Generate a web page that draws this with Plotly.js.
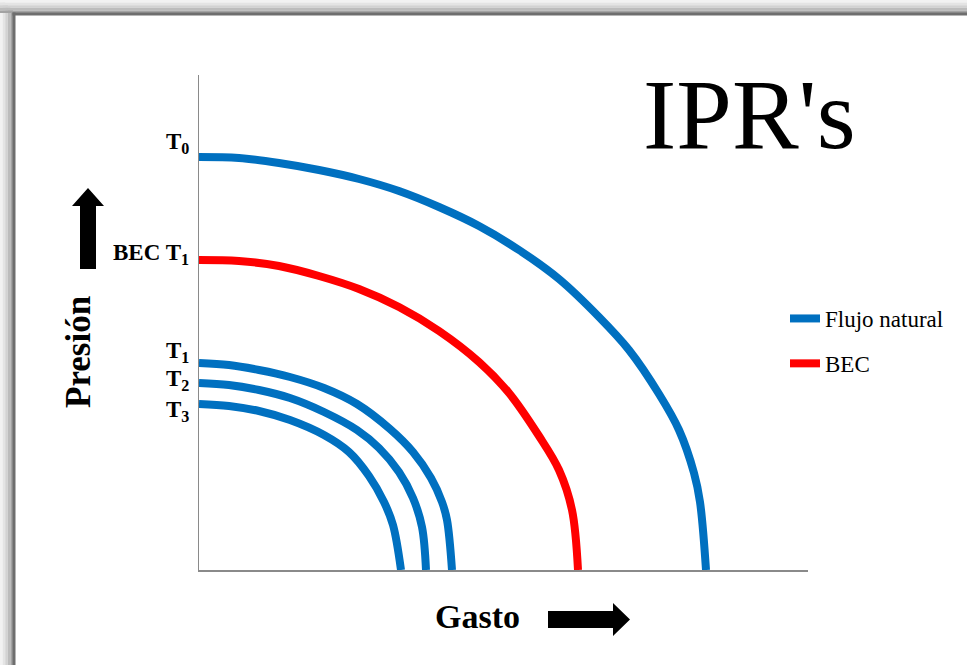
<!DOCTYPE html>
<html>
<head>
<meta charset="utf-8">
<script src="https://cdn.plot.ly/plotly-3.0.1.min.js"></script>
<style>html,body{margin:0;padding:0;background:#fff;}#chart{width:967px;height:665px;}</style>
</head>
<body>
<div id="chart"></div>
<script>
// ---- data (arbitrary units: gasto vs presión) ----
const t0Gasto   = [0, 40, 80, 120, 160, 200, 240, 280, 320, 360, 400, 430, 460, 480, 495, 501, 507];
const t0Presion = [413, 412, 407, 400, 391, 379, 363, 344, 320, 291, 253, 220, 176, 140, 97, 68, 0];

const becGasto   = [0, 40, 80, 120, 160, 200, 240, 280, 310, 340, 360, 373, 379];
const becPresion = [310, 309, 304, 294, 281, 263, 239, 208, 177, 134, 100, 60, 0];

const t1Gasto   = [0, 30, 60, 91, 125, 158, 191, 214, 232, 243, 248, 253];
const t1Presion = [207, 205, 200, 193, 182, 166, 141, 118, 92, 68, 50, 0];

const t2Gasto   = [0, 30, 60, 91, 125, 158, 180, 200, 214, 223, 227];
const t2Presion = [187, 185, 180, 172, 158, 140, 122, 98, 72, 43, 0];

const t3Gasto   = [0, 30, 60, 91, 125, 150, 170, 185, 194, 202];
const t3Presion = [166, 164, 159, 150, 135, 118, 94, 68, 45, 0];

const seriesNames = ["Flujo natural", "BEC"];
const curveLabels = ["T<sub>0</sub>", "BEC T<sub>1</sub>", "T<sub>1</sub>", "T<sub>2</sub>", "T<sub>3</sub>"];
const titleText = "IPR's";
const xTitle = "Gasto";
const yTitle = "Presión";

// ---- layout helpers ----
const W = 967, H = 665;
const L = 199, R = 808, T = 75, B = 570;
const px = x => (x - L) / (R - L);
const py = y => (B - y) / (B - T);

const BLUE = '#0070C0', RED = '#FF0000';
const lineStyle = c => ({color: c, width: 8, shape: 'spline', smoothing: 1});

const traces = [
  {x: t0Gasto, y: t0Presion, mode: 'lines', line: lineStyle(BLUE), name: seriesNames[0], legendgroup: 'a', showlegend: true},
  {x: becGasto, y: becPresion, mode: 'lines', line: lineStyle(RED), name: seriesNames[1], legendgroup: 'b', showlegend: true},
  {x: t1Gasto, y: t1Presion, mode: 'lines', line: lineStyle(BLUE), name: seriesNames[0], legendgroup: 'a', showlegend: false},
  {x: t2Gasto, y: t2Presion, mode: 'lines', line: lineStyle(BLUE), name: seriesNames[0], legendgroup: 'a', showlegend: false},
  {x: t3Gasto, y: t3Presion, mode: 'lines', line: lineStyle(BLUE), name: seriesNames[0], legendgroup: 'a', showlegend: false}
];

// frame shadow bands
const shapes = [];
const bandCols = ['#f2f2f2', '#e4e4e4', '#d2d2d2', '#bcbcbc', '#a3a3a3'];
for (let i = 0; i < 5; i++) {
  const a = i * 2.6, b = (i + 1) * 2.6;
  shapes.push({type: 'rect', xref: 'paper', yref: 'paper', x0: px(0), x1: px(W), y0: py(a), y1: py(b), fillcolor: bandCols[i], line: {width: 0}, layer: 'below'});
  shapes.push({type: 'rect', xref: 'paper', yref: 'paper', x0: px(a), x1: px(b), y0: py(a), y1: py(H), fillcolor: bandCols[i], line: {width: 0}, layer: 'below'});
}
shapes.push({type: 'rect', xref: 'paper', yref: 'paper', x0: px(12.5), x1: px(W), y0: py(12.5), y1: py(15.5), fillcolor: '#6e6e6e', line: {width: 0}, layer: 'below'});
shapes.push({type: 'rect', xref: 'paper', yref: 'paper', x0: px(12.5), x1: px(15.5), y0: py(12.5), y1: py(H), fillcolor: '#6e6e6e', line: {width: 0}, layer: 'below'});

// arrows
const pathFrom = pts => 'M ' + pts.map(p => px(p[0]) + ',' + py(p[1])).join(' L ') + ' Z';
shapes.push({type: 'path', xref: 'paper', yref: 'paper', fillcolor: '#000', line: {width: 0},
  path: pathFrom([[88,188],[104,206],[96,206],[96,269],[80,269],[80,206],[72,206]])});
shapes.push({type: 'path', xref: 'paper', yref: 'paper', fillcolor: '#000', line: {width: 0},
  path: pathFrom([[548,611],[613,611],[613,603],[630,619.5],[613,636],[613,628],[548,628]])});

const labelY = [427, 316, 218, 190, 159];
const annotations = curveLabels.map((t, i) => ({
  text: t, xref: 'paper', yref: 'y', x: px(191), y: labelY[i], xanchor: 'right', yanchor: 'middle',
  showarrow: false, font: {family: 'Liberation Serif', size: 23, color: '#000', weight: 'bold'}
}));
annotations.push({text: titleText, xref: 'paper', yref: 'paper', x: px(749), y: py(115), xanchor: 'center', yanchor: 'middle',
  showarrow: false, font: {family: 'Liberation Serif', size: 100, color: '#000'}});
annotations.push({text: '<b>' + xTitle + '</b>', xref: 'paper', yref: 'paper', x: px(477), y: py(616), xanchor: 'center', yanchor: 'middle',
  showarrow: false, font: {family: 'Liberation Serif', size: 34, color: '#000'}});
annotations.push({text: '<b>' + yTitle + '</b>', xref: 'paper', yref: 'paper', x: px(78), y: py(352), xanchor: 'center', yanchor: 'middle',
  textangle: -90, showarrow: false, font: {family: 'Liberation Serif', size: 35, color: '#000'}});

const axisCommon = {showgrid: false, zeroline: false, showticklabels: false, ticks: '', showline: true, linecolor: '#8a8a8a', linewidth: 1.5, fixedrange: true};

const layout = {
  width: W, height: H,
  margin: {l: L, r: W - R, t: T, b: H - B, pad: 0},
  paper_bgcolor: '#ffffff', plot_bgcolor: 'rgba(0,0,0,0)',
  xaxis: Object.assign({range: [0, R - L]}, axisCommon),
  yaxis: Object.assign({range: [0, B - T]}, axisCommon),
  showlegend: true,
  legend: {x: px(785), y: py(297), xanchor: 'left', yanchor: 'top', bgcolor: 'rgba(0,0,0,0)',
    font: {family: 'Liberation Serif', size: 23, color: '#000'}, traceorder: 'grouped', tracegroupgap: 12},
  shapes: shapes,
  annotations: annotations
};

Plotly.newPlot('chart', traces, layout, {displayModeBar: false, staticPlot: true});
</script>
</body>
</html>
